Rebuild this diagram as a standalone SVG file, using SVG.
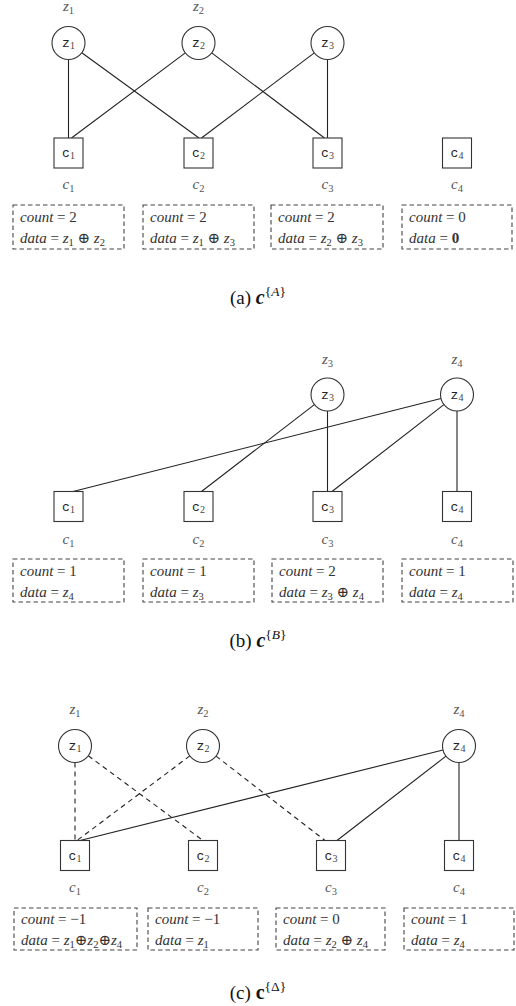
<svg xmlns="http://www.w3.org/2000/svg" width="516" height="1006" viewBox="0 0 516 1006">
<style>
.bg{fill:#fff}
.nd circle,.nd rect.sq{fill:#fff;stroke:#333;stroke-width:1.1}
.lbl{font-family:"Liberation Serif",serif;font-style:italic;font-size:15px;fill:#555}
.sub{font-size:10.5px;font-style:normal}
.nt{font-family:"Liberation Mono","DejaVu Sans Mono",monospace;font-size:13px;fill:#222}
.ns{font-family:"Liberation Serif",serif;font-size:10px;fill:#444}
.bx rect{fill:none;stroke:#444;stroke-width:1.1;stroke-dasharray:4.5 3}
.bt{font-family:"Liberation Serif","DejaVu Serif",serif;font-size:15px;fill:#333}
.it{font-style:italic}
.bs{font-size:10.5px}
.edges line{stroke:#222;stroke-width:1.1}
.edges line.d{stroke-dasharray:5 4}
.cap{font-family:"Liberation Serif",serif;font-size:19px;fill:#111}
</style>
<rect class="bg" width="516" height="1006"/>

<!-- ===== Panel (a) ===== -->
<g class="edges" id="edges-a">
<line x1="68.5" y1="59.5" x2="68.5" y2="138"/>
<line x1="81.8" y1="52.7" x2="199" y2="138"/>
<line x1="185.3" y1="52.9" x2="71.5" y2="138"/>
<line x1="211.7" y1="52.9" x2="324.5" y2="138"/>
<line x1="314.3" y1="52.9" x2="201.5" y2="138"/>
<line x1="327.5" y1="59.5" x2="327.5" y2="138"/>
</g>
<g class="nd" id="a-z1"><text class="lbl" x="68.5" y="11" text-anchor="middle">z<tspan class="sub" dy="3">1</tspan></text><circle cx="68.5" cy="43" r="16.5"/><text class="nt" x="68.5" y="47" text-anchor="middle">z<tspan class="ns" dy="2">1</tspan></text></g>
<g class="nd" id="a-z2"><text class="lbl" x="198.5" y="11" text-anchor="middle">z<tspan class="sub" dy="3">2</tspan></text><circle cx="198.5" cy="43" r="16.5"/><text class="nt" x="198.5" y="47" text-anchor="middle">z<tspan class="ns" dy="2">2</tspan></text></g>
<g class="nd" id="a-z3"><circle cx="327.5" cy="43" r="16.5"/><text class="nt" x="327.5" y="47" text-anchor="middle">z<tspan class="ns" dy="2">3</tspan></text></g>
<g class="nd" id="a-c1"><rect class="sq" x="54" y="138" width="29" height="30"/><text class="nt" x="68.5" y="157" text-anchor="middle">c<tspan class="ns" dy="2">1</tspan></text><text class="lbl" x="68.5" y="189" text-anchor="middle">c<tspan class="sub" dy="3">1</tspan></text></g>
<g class="nd" id="a-c2"><rect class="sq" x="184" y="138" width="29" height="30"/><text class="nt" x="198.5" y="157" text-anchor="middle">c<tspan class="ns" dy="2">2</tspan></text><text class="lbl" x="198.5" y="189" text-anchor="middle">c<tspan class="sub" dy="3">2</tspan></text></g>
<g class="nd" id="a-c3"><rect class="sq" x="313" y="138" width="29" height="30"/><text class="nt" x="327.5" y="157" text-anchor="middle">c<tspan class="ns" dy="2">3</tspan></text><text class="lbl" x="327.5" y="189" text-anchor="middle">c<tspan class="sub" dy="3">3</tspan></text></g>
<g class="nd" id="a-c4"><rect class="sq" x="442.5" y="138" width="29" height="30"/><text class="nt" x="457" y="157" text-anchor="middle">c<tspan class="ns" dy="2">4</tspan></text><text class="lbl" x="457" y="189" text-anchor="middle">c<tspan class="sub" dy="3">4</tspan></text></g>
<g class="bx" id="a-b1"><rect x="13" y="205" width="111" height="44"/><text class="bt" x="20" y="221.5"><tspan class="it">count</tspan> = 2</text><text class="bt" x="20" y="243"><tspan class="it">data</tspan> = <tspan class="it">z</tspan><tspan class="bs" dy="3">1</tspan><tspan dy="-3"> ⊕ </tspan><tspan class="it">z</tspan><tspan class="bs" dy="3">2</tspan></text></g>
<g class="bx" id="a-b2"><rect x="143" y="205" width="111" height="44"/><text class="bt" x="150" y="221.5"><tspan class="it">count</tspan> = 2</text><text class="bt" x="150" y="243"><tspan class="it">data</tspan> = <tspan class="it">z</tspan><tspan class="bs" dy="3">1</tspan><tspan dy="-3"> ⊕ </tspan><tspan class="it">z</tspan><tspan class="bs" dy="3">3</tspan></text></g>
<g class="bx" id="a-b3"><rect x="271" y="205" width="112" height="44"/><text class="bt" x="278" y="221.5"><tspan class="it">count</tspan> = 2</text><text class="bt" x="278" y="243"><tspan class="it">data</tspan> = <tspan class="it">z</tspan><tspan class="bs" dy="3">2</tspan><tspan dy="-3"> ⊕ </tspan><tspan class="it">z</tspan><tspan class="bs" dy="3">3</tspan></text></g>
<g class="bx" id="a-b4"><rect x="402" y="205" width="110" height="44"/><text class="bt" x="409" y="221.5"><tspan class="it">count</tspan> = 0</text><text class="bt" x="409" y="243"><tspan class="it">data</tspan> = <tspan font-weight="bold">0</tspan></text></g>
<text class="cap" x="258" y="304" text-anchor="middle">(a) <tspan font-weight="bold" font-style="italic" font-size="20">c</tspan><tspan font-size="13.5" dy="-8">{<tspan font-style="italic">A</tspan>}</tspan></text>

<!-- ===== Panel (b) ===== -->
<g class="edges" id="edges-b">
<line x1="441" y1="398.5" x2="73" y2="491.5"/>
<line x1="314.4" y1="404.6" x2="201.5" y2="491.5"/>
<line x1="327.5" y1="411" x2="327.5" y2="491.5"/>
<line x1="443.9" y1="404.6" x2="332" y2="491.5"/>
<line x1="457" y1="411" x2="457" y2="491.5"/>
</g>
<g class="nd" id="b-z3"><text class="lbl" x="327.5" y="364" text-anchor="middle">z<tspan class="sub" dy="3">3</tspan></text><circle cx="327.5" cy="394.5" r="16.5"/><text class="nt" x="327.5" y="398.5" text-anchor="middle">z<tspan class="ns" dy="2">3</tspan></text></g>
<g class="nd" id="b-z4"><text class="lbl" x="457" y="364" text-anchor="middle">z<tspan class="sub" dy="3">4</tspan></text><circle cx="457" cy="394.5" r="16.5"/><text class="nt" x="457" y="398.5" text-anchor="middle">z<tspan class="ns" dy="2">4</tspan></text></g>
<g class="nd" id="b-c1"><rect class="sq" x="54" y="491.5" width="29" height="30"/><text class="nt" x="68.5" y="510.5" text-anchor="middle">c<tspan class="ns" dy="2">1</tspan></text><text class="lbl" x="68.5" y="544" text-anchor="middle">c<tspan class="sub" dy="3">1</tspan></text></g>
<g class="nd" id="b-c2"><rect class="sq" x="184" y="491.5" width="29" height="30"/><text class="nt" x="198.5" y="510.5" text-anchor="middle">c<tspan class="ns" dy="2">2</tspan></text><text class="lbl" x="198.5" y="544" text-anchor="middle">c<tspan class="sub" dy="3">2</tspan></text></g>
<g class="nd" id="b-c3"><rect class="sq" x="313" y="491.5" width="29" height="30"/><text class="nt" x="327.5" y="510.5" text-anchor="middle">c<tspan class="ns" dy="2">3</tspan></text><text class="lbl" x="327.5" y="544" text-anchor="middle">c<tspan class="sub" dy="3">3</tspan></text></g>
<g class="nd" id="b-c4"><rect class="sq" x="442.5" y="491.5" width="29" height="30"/><text class="nt" x="457" y="510.5" text-anchor="middle">c<tspan class="ns" dy="2">4</tspan></text><text class="lbl" x="457" y="544" text-anchor="middle">c<tspan class="sub" dy="3">4</tspan></text></g>
<g class="bx" id="b-b1"><rect x="13" y="559" width="111" height="43"/><text class="bt" x="20" y="575.5"><tspan class="it">count</tspan> = 1</text><text class="bt" x="20" y="597"><tspan class="it">data</tspan> = <tspan class="it">z</tspan><tspan class="bs" dy="3">4</tspan></text></g>
<g class="bx" id="b-b2"><rect x="143" y="559" width="111" height="43"/><text class="bt" x="150" y="575.5"><tspan class="it">count</tspan> = 1</text><text class="bt" x="150" y="597"><tspan class="it">data</tspan> = <tspan class="it">z</tspan><tspan class="bs" dy="3">3</tspan></text></g>
<g class="bx" id="b-b3"><rect x="272" y="559" width="111" height="43"/><text class="bt" x="279" y="575.5"><tspan class="it">count</tspan> = 2</text><text class="bt" x="279" y="597"><tspan class="it">data</tspan> = <tspan class="it">z</tspan><tspan class="bs" dy="3">3</tspan><tspan dy="-3"> ⊕ </tspan><tspan class="it">z</tspan><tspan class="bs" dy="3">4</tspan></text></g>
<g class="bx" id="b-b4"><rect x="402" y="559" width="111" height="43"/><text class="bt" x="409" y="575.5"><tspan class="it">count</tspan> = 1</text><text class="bt" x="409" y="597"><tspan class="it">data</tspan> = <tspan class="it">z</tspan><tspan class="bs" dy="3">4</tspan></text></g>
<text class="cap" x="258" y="647" text-anchor="middle">(b) <tspan font-weight="bold" font-style="italic" font-size="20">c</tspan><tspan font-size="13.5" dy="-8">{<tspan font-style="italic">B</tspan>}</tspan></text>

<!-- ===== Panel (c) ===== -->
<g class="edges" id="edges-c">
<line class="d" x1="75" y1="762.5" x2="75" y2="840.5"/>
<line class="d" x1="88.3" y1="755.8" x2="203" y2="840.5"/>
<line class="d" x1="189.8" y1="755.9" x2="77" y2="840.5"/>
<line class="d" x1="216" y1="756.1" x2="325" y2="840.5"/>
<line x1="443" y1="750" x2="80" y2="840.5"/>
<line x1="446" y1="756.1" x2="337" y2="840.5"/>
<line x1="459" y1="762.5" x2="459" y2="840.5"/>
</g>
<g class="nd" id="c-z1"><text class="lbl" x="75" y="714" text-anchor="middle">z<tspan class="sub" dy="3">1</tspan></text><circle cx="75" cy="746" r="16.5"/><text class="nt" x="75" y="750" text-anchor="middle">z<tspan class="ns" dy="2">1</tspan></text></g>
<g class="nd" id="c-z2"><text class="lbl" x="203" y="714" text-anchor="middle">z<tspan class="sub" dy="3">2</tspan></text><circle cx="203" cy="746" r="16.5"/><text class="nt" x="203" y="750" text-anchor="middle">z<tspan class="ns" dy="2">2</tspan></text></g>
<g class="nd" id="c-z4"><text class="lbl" x="459" y="714" text-anchor="middle">z<tspan class="sub" dy="3">4</tspan></text><circle cx="459" cy="746" r="16.5"/><text class="nt" x="459" y="750" text-anchor="middle">z<tspan class="ns" dy="2">4</tspan></text></g>
<g class="nd" id="c-c1"><rect class="sq" x="60.5" y="840.5" width="29" height="30"/><text class="nt" x="75" y="859.5" text-anchor="middle">c<tspan class="ns" dy="2">1</tspan></text><text class="lbl" x="75" y="892" text-anchor="middle">c<tspan class="sub" dy="3">1</tspan></text></g>
<g class="nd" id="c-c2"><rect class="sq" x="188.5" y="840.5" width="29" height="30"/><text class="nt" x="203" y="859.5" text-anchor="middle">c<tspan class="ns" dy="2">2</tspan></text><text class="lbl" x="203" y="892" text-anchor="middle">c<tspan class="sub" dy="3">2</tspan></text></g>
<g class="nd" id="c-c3"><rect class="sq" x="316.5" y="840.5" width="29" height="30"/><text class="nt" x="331" y="859.5" text-anchor="middle">c<tspan class="ns" dy="2">3</tspan></text><text class="lbl" x="331" y="892" text-anchor="middle">c<tspan class="sub" dy="3">3</tspan></text></g>
<g class="nd" id="c-c4"><rect class="sq" x="444.5" y="840.5" width="29" height="30"/><text class="nt" x="459" y="859.5" text-anchor="middle">c<tspan class="ns" dy="2">4</tspan></text><text class="lbl" x="459" y="892" text-anchor="middle">c<tspan class="sub" dy="3">4</tspan></text></g>
<g class="bx" id="c-b1"><rect x="14" y="908" width="123" height="42"/><text class="bt" x="21" y="923.5"><tspan class="it">count</tspan> = −1</text><text class="bt" x="21" y="945"><tspan class="it">data</tspan> = <tspan class="it">z</tspan><tspan class="bs" dy="3">1</tspan><tspan dy="-3">⊕</tspan><tspan class="it">z</tspan><tspan class="bs" dy="3">2</tspan><tspan dy="-3">⊕</tspan><tspan class="it">z</tspan><tspan class="bs" dy="3">4</tspan></text></g>
<g class="bx" id="c-b2"><rect x="148" y="908" width="110" height="42"/><text class="bt" x="155" y="923.5"><tspan class="it">count</tspan> = −1</text><text class="bt" x="155" y="945"><tspan class="it">data</tspan> = <tspan class="it">z</tspan><tspan class="bs" dy="3">1</tspan></text></g>
<g class="bx" id="c-b3"><rect x="276" y="908" width="109" height="42"/><text class="bt" x="283" y="923.5"><tspan class="it">count</tspan> = 0</text><text class="bt" x="283" y="945"><tspan class="it">data</tspan> = <tspan class="it">z</tspan><tspan class="bs" dy="3">2</tspan><tspan dy="-3"> ⊕ </tspan><tspan class="it">z</tspan><tspan class="bs" dy="3">4</tspan></text></g>
<g class="bx" id="c-b4"><rect x="404" y="908" width="110" height="42"/><text class="bt" x="411" y="923.5"><tspan class="it">count</tspan> = 1</text><text class="bt" x="411" y="945"><tspan class="it">data</tspan> = <tspan class="it">z</tspan><tspan class="bs" dy="3">4</tspan></text></g>
<text class="cap" x="258" y="999" text-anchor="middle">(c) <tspan font-weight="bold" font-size="20">c</tspan><tspan font-size="13.5" dy="-8">{Δ}</tspan></text>
</svg>
